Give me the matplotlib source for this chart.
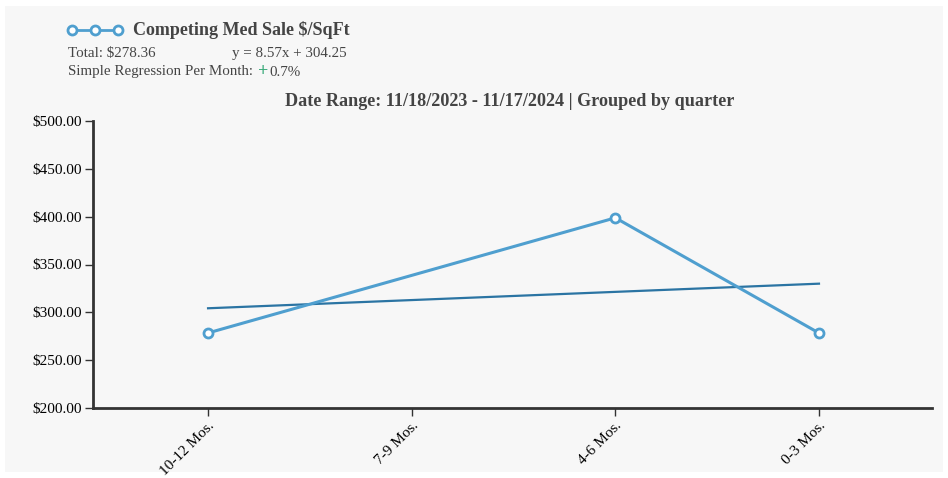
import matplotlib.pyplot as plt
from matplotlib.patches import Rectangle
from matplotlib.lines import Line2D
import numpy as np

plt.rcParams['font.family'] = ['Liberation Serif', 'DejaVu Serif']

# quarterly buckets, oldest first
categories = ['10-12 Mos.', '7-9 Mos.', '4-6 Mos.', '0-3 Mos.']
med_sale_sqft = [278.45, np.nan, 398.79, 278.36]
slope = 8.57
intercept = 304.25
total_value = 278.36
monthly_change = 0.7
date_range = '11/18/2023 - 11/17/2024'

W, H = 948, 478
fig = plt.figure(figsize=(W / 100, H / 100), dpi=100)
fig.patch.set_facecolor('white')

# gray panel behind everything
fig.patches.append(Rectangle((5 / W, 6 / H), 938 / W, 466 / H, transform=fig.transFigure,
                             facecolor='#f7f7f7', edgecolor='none', zorder=-1))

ax = fig.add_axes([93 / W, (H - 408) / H, (932 - 93) / W, (408 - 121) / H])
ax.set_facecolor('none')

x = np.arange(len(categories))
y = np.array(med_sale_sqft)
mask = ~np.isnan(y)

line_color = '#4f9fcf'
reg_color = '#2b74a3'

ax.plot(x[mask], y[mask], color=line_color, lw=2.2, marker='o', ms=6.5,
        mfc='white', mec=line_color, mew=2, zorder=3)
xr = np.array([0, len(categories) - 1])
ax.plot(xr, slope * xr + intercept, color=reg_color, lw=1.6, zorder=2)

ax.set_xlim(-0.565, 3.555)
ax.set_ylim(200, 500)
ax.set_xticks(x)
ax.set_xticklabels(categories, rotation=45, ha='right', va='top',
                   rotation_mode='anchor', fontsize=11)
ax.set_yticks(np.arange(200, 501, 50))
ax.set_yticklabels([f'${v:.2f}' for v in np.arange(200, 501, 50)], fontsize=11)

for s in ['top', 'right']:
    ax.spines[s].set_visible(False)
for s in ['left', 'bottom']:
    ax.spines[s].set_linewidth(2)
    ax.spines[s].set_color('#333333')
ax.tick_params(axis='both', length=6, width=1, color='#333333', pad=2)

# header / legend
lg = Line2D([72 / W, 95 / W, 118 / W], [(H - 30) / H] * 3, color=line_color, lw=2,
            marker='o', ms=6.5, mfc='white', mec=line_color, mew=2,
            transform=fig.transFigure)
fig.add_artist(lg)
fig.text(133 / W, (H - 30) / H, 'Competing Med Sale $/SqFt', fontsize=13,
         fontweight='bold', color='#444444', va='center')
fig.text(68 / W, (H - 53) / H, f'Total: ${total_value:.2f}', fontsize=10.8,
         color='#444444', va='center')
fig.text(232 / W, (H - 53) / H, f'y = {slope:.2f}x + {intercept:.2f}', fontsize=10.8,
         color='#444444', va='center')
fig.text(68 / W, (H - 72) / H, 'Simple Regression Per Month:', fontsize=10.8,
         color='#444444', va='center')
fig.text(258 / W, (H - 72) / H, '+', fontsize=13, color='#3aaa7a', va='center',
         fontweight='bold')
fig.text(269 / W, (H - 72) / H, f'{monthly_change}%', fontsize=10.8,
         color='#444444', va='center')

fig.text(510 / W, (H - 101) / H, f'Date Range: {date_range} | Grouped by quarter',
         fontsize=13.1, fontweight='bold', color='#444444', ha='center', va='center')

fig.savefig('out.png', dpi=100, facecolor='white')
